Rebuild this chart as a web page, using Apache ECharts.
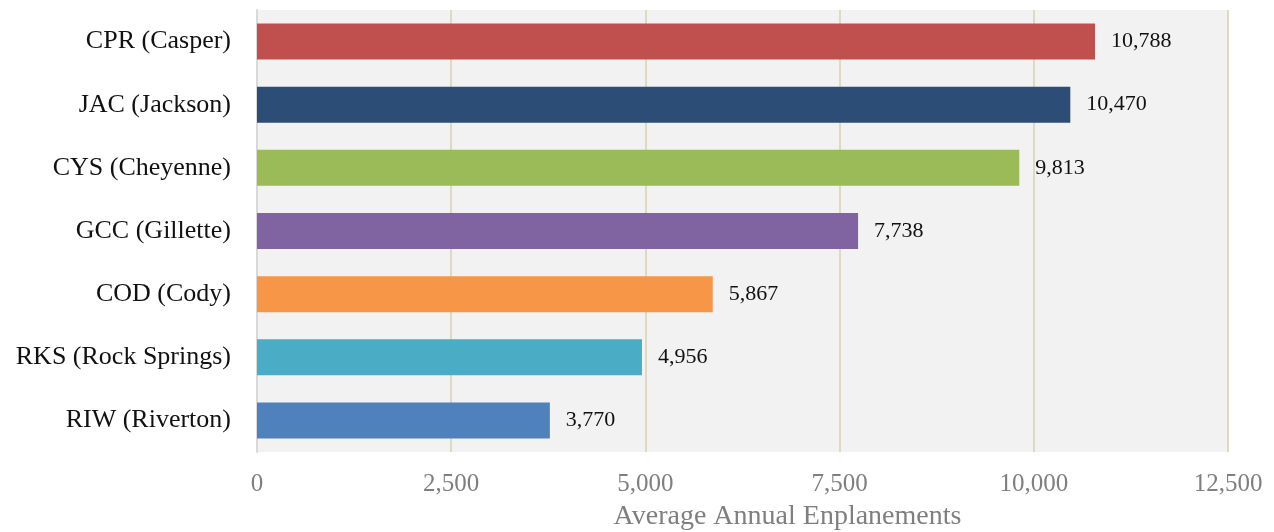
<!DOCTYPE html>
<html>
<head>
<meta charset="utf-8">
<script src="https://cdn.jsdelivr.net/npm/echarts@6/dist/echarts.min.js"></script>
<style>
  html, body { margin: 0; padding: 0; background: #ffffff; }
  #chart { width: 1274px; height: 532px; }
</style>
</head>
<body>
<div id="chart"></div>
<script>
// Airports, top to bottom as drawn
const airports = ['CPR (Casper)', 'JAC (Jackson)', 'CYS (Cheyenne)', 'GCC (Gillette)', 'COD (Cody)', 'RKS (Rock Springs)', 'RIW (Riverton)'];
const enplanements = [10788, 10470, 9813, 7738, 5867, 4956, 3770];
const barColors = ['#c0504d', '#2c4d75', '#9bbb59', '#8064a2', '#f79646', '#4bacc6', '#4f81bd'];
const xTicks = [0, 2500, 5000, 7500, 10000, 12500];

const serif = '"Liberation Serif", "DejaVu Serif", serif';
const fmt = v => v.toLocaleString('en-US');

const chart = echarts.init(document.getElementById('chart'), null, { renderer: 'canvas' });
chart.setOption({
  animation: false,
  backgroundColor: '#ffffff',
  grid: {
    left: 257, right: 46, top: 10, bottom: 80,
    outerBoundsMode: 'none',
    show: true, backgroundColor: '#f2f2f2', borderWidth: 0
  },
  xAxis: {
    type: 'value',
    min: xTicks[0],
    max: xTicks[xTicks.length - 1],
    interval: 2500,
    name: 'Average Annual Enplanements',
    nameLocation: 'middle',
    nameGap: 51,
    // title sits a little right of the plot's centre
    nameTextStyle: { fontFamily: serif, fontSize: 28, color: '#7f7f7f', padding: [0, 0, 0, 90] },
    axisLine: { show: false },
    axisTick: { show: false },
    axisLabel: { fontFamily: serif, fontSize: 25, color: '#7f7f7f', margin: 20, formatter: fmt },
    splitLine: { show: true, lineStyle: { color: '#ddd9c3', width: 2 } }
  },
  yAxis: {
    type: 'category',
    data: airports,
    inverse: true,
    axisLine: { show: true, lineStyle: { color: '#d9d9d9', width: 2 } },
    axisTick: { show: false },
    axisLabel: { fontFamily: serif, fontSize: 26, color: '#111111', margin: 26 }
  },
  series: [{
    type: 'bar',
    data: enplanements.map((v, i) => ({ value: v, itemStyle: { color: barColors[i] } })),
    barCategoryGap: '43%',
    label: {
      show: true,
      position: 'right',
      distance: 16,
      fontFamily: serif,
      fontSize: 22,
      color: '#111111',
      formatter: p => fmt(p.value)
    }
  }]
});
</script>
</body>
</html>
